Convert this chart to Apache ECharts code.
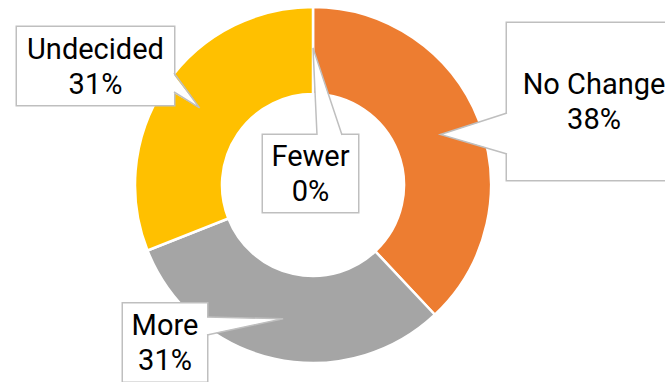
<!DOCTYPE html>
<html><head><meta charset="utf-8">
<script src="https://cdn.jsdelivr.net/npm/echarts@6/dist/echarts.min.js"></script>
<style>html,body{margin:0;padding:0;background:#fff}#c{width:665px;height:382px}</style>
</head><body><div id="c"></div>
<script>
// ---- data ----
const categories = ['Fewer', 'No Change', 'More', 'Undecided'];
const values = [0, 38, 31, 31];

// ---- styles / layout (kept separate from data) ----
const palette = ['#4472C4', '#ED7D31', '#A5A5A5', '#FFC000'];
const callouts = [
  {cx: 310.5, cy: 173.5, w: 95,  h: 77,  side: 'top',   b: [6.5, 31.5]},
  {cx: 594,   cy: 101.5, w: 174, h: 157, side: 'left',  b: [11.5, 52.5]},
  {cx: 165,   cy: 342.5, w: 84,  h: 78,  side: 'right', b: [-25.5, -7.5]},
  {cx: 95.5,  cy: 66,    w: 157, h: 78,  side: 'right', b: [7, 26]}
];
const LINE_H = 35;
const BORDER = '#BFBFBF';

const chart = echarts.init(document.getElementById('c'), null, {renderer: 'svg'});

const seriesData = categories.map((name, i) => ({
  name: name,
  value: values[i],
  itemStyle: {color: palette[i], borderWidth: values[i] === 0 ? 4 : 2.5},
  label: {
    width: callouts[i].w,
    padding: [(callouts[i].h - 2 * LINE_H) / 2, 0]
  }
}));

chart.setOption({
  animation: false,
  backgroundColor: '#fff',
  series: [{
    type: 'pie',
    center: [313, 185],
    radius: [91, 178],
    startAngle: 90,
    clockwise: true,
    avoidLabelOverlap: false,
    percentPrecision: 0,
    minShowLabelAngle: 0,
    itemStyle: {borderColor: '#fff', borderWidth: 2.5},
    label: {
      show: true,
      position: 'inside',
      formatter: '{b}\n{d}%',
      fontFamily: 'Roboto',
      fontSize: 29,
      lineHeight: LINE_H,
      color: '#000',
      align: 'center',
      overflow: 'none',
      backgroundColor: '#fff',
      borderColor: BORDER,
      borderWidth: 1.5
    },
    labelLine: {show: false},
    emphasis: {disabled: true},
    labelLayout: function (params) {
      const c = callouts[params.dataIndex];
      return {x: c.cx, y: c.cy, align: 'center', verticalAlign: 'middle'};
    },
    data: seriesData
  }]
});

// ---- callout wedges, tip at the middle of each ring segment (from the pie layout) ----
function sliceLayout(i) {
  try {
    const d = chart.getModel().getSeriesByIndex(0).getData();
    return d.getItemLayout(i);
  } catch (e) {
    const total = values.reduce((a, b) => a + b, 0);
    let start = -Math.PI / 2;
    for (let k = 0; k < i; k++) start += values[k] / total * Math.PI * 2;
    return {cx: 313, cy: 185, r0: 91, r: 178, startAngle: start,
            endAngle: start + values[i] / total * Math.PI * 2};
  }
}
const graphics = [];
categories.forEach((name, i) => {
  const L = sliceLayout(i);
  const mid = (L.startAngle + L.endAngle) / 2;
  const rm = L.r0 + (L.r - L.r0) * 0.53;
  const tip = [L.cx + rm * Math.cos(mid), L.cy + rm * Math.sin(mid)];
  const c = callouts[i];
  let e0, e1, i0, i1;
  const inset = 1.6;
  if (c.side === 'top') {
    const y = c.cy - c.h / 2;
    e0 = [c.cx + c.b[0], y]; e1 = [c.cx + c.b[1], y];
    i0 = [e0[0], y + inset]; i1 = [e1[0], y + inset];
  } else if (c.side === 'left') {
    const x = c.cx - c.w / 2;
    e0 = [x, c.cy + c.b[0]]; e1 = [x, c.cy + c.b[1]];
    i0 = [x + inset, e0[1]]; i1 = [x + inset, e1[1]];
  } else {
    const x = c.cx + c.w / 2;
    e0 = [x, c.cy + c.b[0]]; e1 = [x, c.cy + c.b[1]];
    i0 = [x - inset, e0[1]]; i1 = [x - inset, e1[1]];
  }
  graphics.push({type: 'polygon', z: 100, silent: true,
    shape: {points: [i0, tip, i1]}, style: {fill: '#fff', stroke: null}});
  graphics.push({type: 'polyline', z: 101, silent: true,
    shape: {points: [e0, tip, e1]}, style: {stroke: BORDER, lineWidth: 1.5, fill: null}});
});
chart.setOption({graphic: graphics});
</script>
</body></html>
